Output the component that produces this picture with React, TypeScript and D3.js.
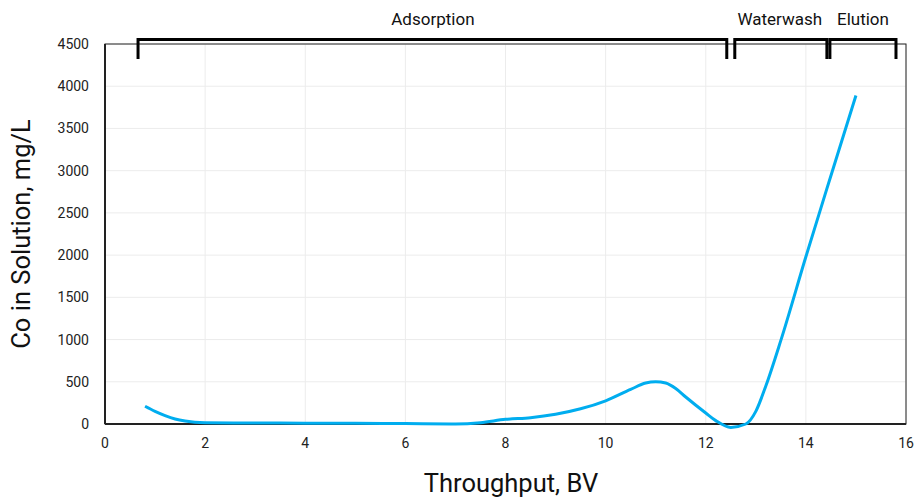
import { useMemo } from 'react';
import { scaleLinear, line, curveMonotoneX } from 'd3';

// throughput (BV) vs Co concentration (mg/L)
const throughput = [0.8, 1.0, 1.2, 1.4, 1.6, 2, 3, 4, 5, 6, 7, 7.5, 8, 8.5, 9, 9.5, 10, 10.5, 10.8, 11, 11.2, 11.4, 11.6, 12, 12.2, 12.5, 12.8, 13, 13.2, 13.5, 14, 14.5, 15];
const coSolution = [210, 150, 100, 60, 35, 15, 12, 10, 8, 5, 0, 15, 55, 75, 115, 180, 275, 410, 485, 500, 485, 420, 320, 130, 40, -40, 0, 150, 450, 990, 1980, 2940, 3890];

const xTicks = [0, 2, 4, 6, 8, 10, 12, 14, 16];
const yTicks = [0, 500, 1000, 1500, 2000, 2500, 3000, 3500, 4000, 4500];

const stageNames = ['Adsorption', 'Waterwash', 'Elution'];
const stageStart = [0.66, 12.58, 14.48];
const stageEnd = [12.42, 14.42, 15.8];
const stageLabelAt = [6.55, 13.48, 15.14];

const W = 915;
const H = 497;
const margin = { left: 105, right: 9, top: 44, bottom: 73 };

export default function App() {
  const x = scaleLinear().domain([0, 16]).range([margin.left, W - margin.right]);
  const y = scaleLinear().domain([0, 4500]).range([H - margin.bottom, margin.top]);

  const path = useMemo(() => {
    const gen = line<number>()
      .x((d) => x(d))
      .y((_, i) => y(coSolution[i]))
      .curve(curveMonotoneX);
    return gen(throughput) || '';
  }, []);

  const font = 'Roboto, "Noto Sans", sans-serif';

  return (
    <svg width={W} height={H} style={{ position: 'absolute', left: 0, top: 0, background: '#fff' }} fontFamily={font}>
      {/* grid */}
      {xTicks.map((t) => (
        <line key={'gx' + t} x1={x(t)} x2={x(t)} y1={y(0)} y2={y(4500)} stroke="#ececec" strokeWidth={1} />
      ))}
      {yTicks.map((t) => (
        <line key={'gy' + t} x1={x(0)} x2={x(16)} y1={y(t)} y2={y(t)} stroke="#ececec" strokeWidth={1} />
      ))}

      {/* frame */}
      <rect x={x(0)} y={y(4500)} width={x(16) - x(0)} height={y(0) - y(4500)} fill="none" stroke="#222" strokeWidth={1} />
      <line x1={x(0)} x2={x(16)} y1={y(0)} y2={y(0)} stroke="#222" strokeWidth={2} />
      <line x1={x(0)} x2={x(0)} y1={y(0)} y2={y(4500)} stroke="#222" strokeWidth={2} />

      {/* ticks */}
      {xTicks.map((t) => (
        <text key={'tx' + t} x={x(t)} y={y(0) + 24} textAnchor="middle" fontSize={14} fill="#222">
          {t}
        </text>
      ))}
      {yTicks.map((t) => (
        <text key={'ty' + t} x={x(0) - 16} y={y(t) + 5} textAnchor="end" fontSize={14} fill="#222">
          {t}
        </text>
      ))}

      {/* curve */}
      <path d={path} fill="none" stroke="#00adef" strokeWidth={3} />

      {/* stage brackets */}
      {stageNames.map((name, i) => {
        const x0 = x(stageStart[i]);
        const x1 = x(stageEnd[i]);
        return (
          <g key={name}>
            <path
              d={`M${x0},59 V39.5 H${x1} V59`}
              fill="none"
              stroke="#000"
              strokeWidth={3}
            />
            <text x={x(stageLabelAt[i])} y={25} textAnchor="middle" fontSize={17} fill="#111">
              {name}
            </text>
          </g>
        );
      })}

      {/* axis titles */}
      <text x={511} y={492} textAnchor="middle" fontSize={25.5} fill="#111">
        Throughput, BV
      </text>
      <text
        transform={`translate(30, ${(y(0) + y(4500)) / 2}) rotate(-90)`}
        textAnchor="middle"
        fontSize={25.5}
        fill="#111"
      >
        Co in Solution, mg/L
      </text>
    </svg>
  );
}
